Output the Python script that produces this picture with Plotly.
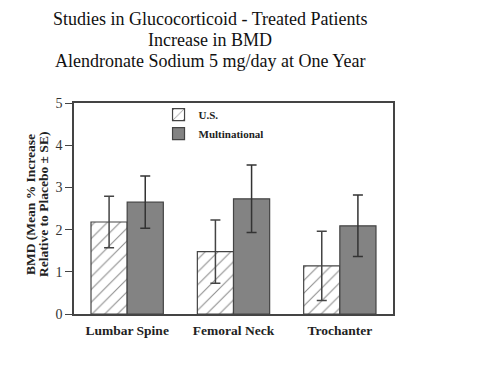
import plotly.graph_objects as go

categories = ["Lumbar Spine", "Femoral Neck", "Trochanter"]
us_values = [2.18, 1.48, 1.14]
us_errors = [0.61, 0.75, 0.82]
multi_values = [2.65, 2.73, 2.09]
multi_errors = [0.62, 0.80, 0.73]
y_ticks = [0, 1, 2, 3, 4, 5]
title_lines = ["Studies in Glucocorticoid - Treated Patients",
               "Increase in BMD",
               "Alendronate Sodium 5 mg/day at One Year"]
ytitle_lines = ["BMD (Mean % Increase", "Relative to Placebo ± SE)"]

SERIF = "Liberation Serif, Times New Roman, serif"
EDGE = "#444444"

# figure geometry (page has an 8px body margin offset)
W, H = 477, 371
L, T, PW, PH = 66, 95, 319, 211
R, B = W - L - PW, H - T - PH

def px_x(x):
    return (x - L) / PW

def px_y(y):
    return 1 - (y - T) / PH

fig = go.Figure()
fig.add_trace(go.Bar(
    name="U.S.", x=categories, y=us_values,
    marker=dict(color="white", line=dict(color=EDGE, width=1.2),
                pattern=dict(shape="/", fgcolor="#1a1a1a", bgcolor="white",
                             size=9, solidity=0.12)),
    error_y=dict(type="data", array=us_errors, color="#444444", thickness=1.5, width=5),
))
fig.add_trace(go.Bar(
    name="Multinational", x=categories, y=multi_values,
    marker=dict(color="#838383", line=dict(color=EDGE, width=1.2)),
    error_y=dict(type="data", array=multi_errors, color="#333333", thickness=1.5, width=5),
))

annotations = []
for i, line in enumerate(title_lines):
    annotations.append(dict(
        text=line, x=px_x(202), y=px_y(11 + 21 * i), xref="paper", yref="paper",
        showarrow=False, xanchor="center", yanchor="middle",
        font=dict(family=SERIF, size=18, color="#111111"),
    ))
for i, line in enumerate(ytitle_lines):
    annotations.append(dict(
        text=line, x=px_x(22 + 13 * i), y=px_y(197), xref="paper", yref="paper",
        showarrow=False, xanchor="center", yanchor="middle", textangle=-90,
        font=dict(family=SERIF, size=13.5, color="#222222", weight="bold"),
    ))

fig.update_layout(
    width=W, height=H,
    margin=dict(l=L, r=R, t=T, b=B, autoexpand=False),
    paper_bgcolor="white", plot_bgcolor="white",
    barmode="group", bargap=0.32, bargroupgap=0,
    font=dict(family=SERIF, color="#222222"),
    showlegend=True,
    legend=dict(x=0.265, y=1.014, xanchor="left", yanchor="top",
                font=dict(family=SERIF, size=11, color="#222222", weight="bold"),
                bgcolor="rgba(0,0,0,0)", tracegroupgap=0),
    annotations=annotations,
)

fig.update_xaxes(
    showline=True, linecolor=EDGE, linewidth=1.5, mirror=True,
    ticks="", showgrid=False, automargin=False, ticklabelstandoff=3,
    tickfont=dict(family=SERIF, size=13.5, color="#222222", weight="bold"),
)
fig.update_yaxes(
    range=[0, 5], tickvals=y_ticks, showline=True, linecolor=EDGE, linewidth=1.5,
    mirror=True, ticks="outside", ticklen=7, tickcolor=EDGE, showgrid=False,
    zeroline=False, automargin=False,
    tickfont=dict(family=SERIF, size=14, color="#333333"),
)

fig.write_html("out.html")
